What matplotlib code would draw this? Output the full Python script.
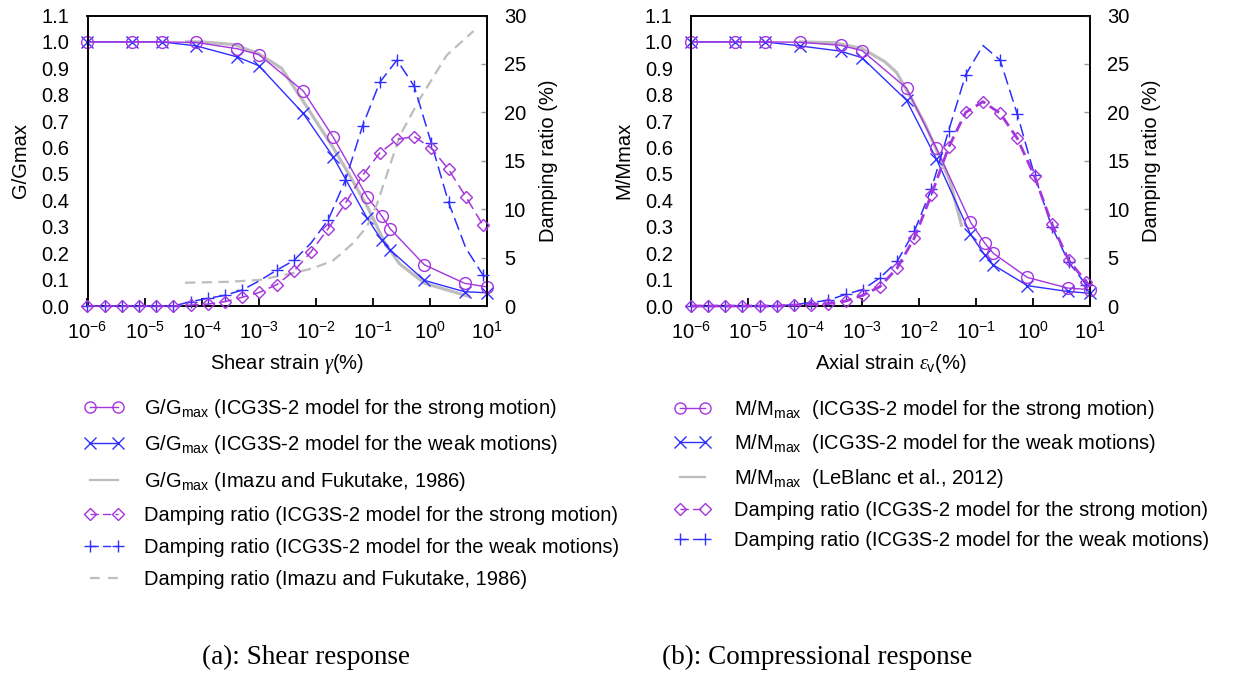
import matplotlib
matplotlib.use("Agg")
import matplotlib.pyplot as plt
from matplotlib.lines import Line2D
from matplotlib.ticker import FixedLocator, LogFormatterMathtext, NullLocator, FormatStrFormatter

plt.rcParams['font.family'] = ['Liberation Sans', 'DejaVu Sans']
plt.rcParams['mathtext.fontset'] = 'custom'
plt.rcParams['mathtext.rm'] = 'Liberation Sans'
plt.rcParams['mathtext.it'] = 'Liberation Serif:italic'
plt.rcParams['mathtext.bf'] = 'Liberation Sans:bold'
plt.rcParams['lines.scale_dashes'] = False

# ---------------- data ----------------
# strains (%) at which the modulus curves are sampled
mod_strain = [1e-6, 6e-6, 2e-5, 8e-5, 4.2e-4, 1e-3, 6e-3, 2e-2, 7.9e-2, 0.141, 0.2, 0.79, 4.0, 10.0]

# shear modulus reduction
shear_G_strong = [1.0, 1.0, 1.0, 0.998, 0.974, 0.952, 0.814, 0.640, 0.413, 0.342, 0.292, 0.156, 0.086, 0.072]
shear_G_weak = [1.0, 1.0, 1.0, 0.985, 0.943, 0.910, 0.729, 0.565, 0.332, 0.250, 0.212, 0.097, 0.054, 0.050]
imazu_G_strain = [5.1e-5, 1e-4, 3.7e-4, 1e-3, 2.5e-3, 5.4e-3, 1e-2, 2e-2, 4e-2, 8e-2, 0.16, 0.29, 0.8, 5.0]
imazu_G = [1.0, 1.0, 0.99, 0.955, 0.90, 0.79, 0.70, 0.60, 0.49, 0.375, 0.24, 0.16, 0.086, 0.035]

# compressional modulus reduction
axial_M_strong = [1.0, 1.0, 1.0, 0.999, 0.987, 0.967, 0.825, 0.598, 0.318, 0.238, 0.199, 0.108, 0.068, 0.062]
axial_M_weak = [1.0, 1.0, 1.0, 0.985, 0.965, 0.940, 0.779, 0.557, 0.272, 0.193, 0.155, 0.077, 0.055, 0.048]
leblanc_M_strain = [7.9e-5, 3.2e-4, 1e-3, 2.5e-3, 4e-3, 6.3e-3, 1.26e-2, 2.5e-2, 3.5e-2, 5.6e-2]
leblanc_M = [1.0, 0.997, 0.975, 0.925, 0.885, 0.81, 0.69, 0.545, 0.47, 0.30]

# strains (%) at which the damping curves are sampled
damp_strain = [1e-6, 2e-6, 4e-6, 8e-6, 1.6e-5, 3.2e-5, 6.4e-5, 1.28e-4, 2.56e-4, 5.12e-4,
               1.02e-3, 2.05e-3, 4.1e-3, 8.19e-3, 1.64e-2, 3.28e-2, 6.55e-2, 0.131, 0.262, 0.524,
               1.05, 2.10, 4.19, 8.39, 10.0]

shear_D_strong = [0, 0, 0, 0, 0, 0, 0.1, 0.2, 0.45, 0.9, 1.4, 2.2, 3.6, 5.6, 8.0, 10.6,
                  13.5, 15.8, 17.2, 17.5, 16.3, 14.1, 11.3, 8.35, 7.8]
shear_D_weak = [0, 0, 0, 0, 0, 0, 0.45, 0.8, 1.1, 1.65, 2.6, 3.7, 4.7, 6.5, 8.9, 13.0,
                18.6, 23.1, 25.4, 22.7, 16.8, 10.7, 6.0, 3.2, 2.7]
imazu_D_strain = [5.1e-5, 3e-4, 1.05e-3, 4e-3, 8.9e-3, 2e-2, 4.5e-2, 7.8e-2, 0.115, 0.295, 0.66, 1.95, 5.75]
imazu_D = [2.4, 2.5, 2.7, 3.4, 3.9, 4.7, 6.5, 8.2, 10.4, 17.6, 21.4, 25.9, 28.4]

axial_D_strong = [0, 0, 0, 0, 0, 0, 0.1, 0.15, 0.25, 0.5, 1.1, 2.0, 3.9, 7.0, 11.5, 16.4,
                  20.0, 21.1, 19.9, 17.3, 13.4, 8.5, 4.7, 2.5, 2.0]
axial_D_weak = [0, 0, 0, 0, 0, 0, 0.15, 0.35, 0.6, 1.2, 1.7, 2.9, 4.6, 7.7, 12.1, 18.1,
                23.9, 26.9, 25.4, 19.8, 13.5, 8.2, 4.5, 2.2, 1.9]

x_ticks = [1e-6, 1e-5, 1e-4, 1e-3, 1e-2, 1e-1, 1e0, 1e1]
g_ticks = [0.0, 0.1, 0.2, 0.3, 0.4, 0.5, 0.6, 0.7, 0.8, 0.9, 1.0, 1.1]
d_ticks = [0, 5, 10, 15, 20, 25, 30]

# ---------------- styling ----------------
PURPLE = '#A535DC'
BLUE = '#2F2FFF'
GREY = '#BDBDBD'
FS = 14.5

W, H = 1235, 675
fig = plt.figure(figsize=(W / 100, H / 100), dpi=100)


def frac_box(x0, x1, y0, y1):
    return [x0 / W, 1 - y1 / H, (x1 - x0) / W, (y1 - y0) / H]


def style_axes(ax, ax2, ylabel, xlabel):
    ax.set_xscale('log')
    ax.set_xlim(1e-6, 10)
    ax.set_ylim(0, 1.1)
    ax2.set_ylim(0, 30)
    ax.xaxis.set_major_locator(FixedLocator(x_ticks))
    ax.xaxis.set_major_formatter(LogFormatterMathtext())
    ax.xaxis.set_minor_locator(NullLocator())
    ax.yaxis.set_major_locator(FixedLocator(g_ticks))
    ax.yaxis.set_major_formatter(FormatStrFormatter('%.1f'))
    ax2.yaxis.set_major_locator(FixedLocator(d_ticks))
    ax.tick_params(axis='x', direction='in', length=6, width=1.3, labelsize=FS, pad=11,
                   top=False, color='black')
    ax.tick_params(axis='y', length=0, labelsize=FS, pad=13)
    ax2.tick_params(axis='y', direction='in', length=4.5, width=1.0, color='#9A9A9A',
                    labelsize=FS, pad=12)
    for a in (ax, ax2):
        for s in a.spines.values():
            s.set_linewidth(1.2)
            s.set_color('black')
    ax.set_ylabel(ylabel, fontsize=FS, labelpad=8)
    ax2.set_ylabel('Damping ratio (%)', fontsize=FS, labelpad=9)
    ax.set_xlabel(xlabel, fontsize=FS, labelpad=6)


def draw(ax, ax2, strong, weak, ref_x, ref_y, d_strong, d_weak, d_weak_marks, strong_dash_lw,
         ref_dx=None, ref_dy=None):
    ax.plot(ref_x, ref_y, color=GREY, lw=2.3, zorder=2, solid_capstyle='butt')
    ax.plot(mod_strain, weak, color=BLUE, lw=1.0, marker='x', ms=8, mew=1.0,
            clip_on=False, zorder=3)
    ax.plot(mod_strain, strong, color=PURPLE, lw=1.0, marker='o', ms=8.5, mew=1.0,
            mfc='none', clip_on=False, zorder=4)
    if ref_dx is not None:
        ax2.plot(ref_dx, ref_dy, color=GREY, lw=1.6, dashes=(7.5, 4.5), zorder=2)
    ax2.plot(damp_strain, d_weak, color=BLUE, lw=1.1, dashes=(9, 4), marker='+', ms=9,
             mew=1.0, markevery=d_weak_marks, clip_on=False, zorder=3)
    ax2.plot(damp_strain, d_strong, color=PURPLE, lw=strong_dash_lw, dashes=(8, 4),
             marker='D', ms=6, mew=1.0, mfc='none', markevery=list(range(24)),
             clip_on=False, zorder=4)


# (a) shear response
axL = fig.add_axes(frac_box(87.5, 487.3, 15.5, 306))
axL2 = axL.twinx()
style_axes(axL, axL2, 'G/Gmax', r'Shear strain $\gamma$(%)')
shear_weak_marks = [i for i in range(25) if i not in (10, 13, 22, 24)]
draw(axL, axL2, shear_G_strong, shear_G_weak, imazu_G_strain, imazu_G,
     shear_D_strong, shear_D_weak, shear_weak_marks, 1.1, imazu_D_strain, imazu_D)

# (b) compressional response
axR = fig.add_axes(frac_box(690.9, 1090.4, 15.5, 306))
axR2 = axR.twinx()
style_axes(axR, axR2, 'M/Mmax', r'Axial strain $\varepsilon_{\mathrm{v}}$(%)')
axial_weak_marks = [i for i in range(25) if i not in (17, 24)]
draw(axR, axR2, axial_M_strong, axial_M_weak, leblanc_M_strain, leblanc_M,
     axial_D_strong, axial_D_weak, axial_weak_marks, 2.0)


# legends
def handle(color, marker, dashed=False, lw=1.0, mfc=None, ms=8):
    kw = dict(color=color, lw=lw, marker=marker, ms=ms, mew=1.0)
    if mfc is not None:
        kw['mfc'] = mfc
    if dashed:
        kw['dashes'] = (6, 3)
    return Line2D([], [], **kw)


left_handles = [
    handle(PURPLE, 'o', mfc='none'),
    handle(BLUE, 'x'),
    Line2D([], [], color=GREY, lw=1.6),
    handle(PURPLE, 'D', dashed=True, mfc='none', ms=6),
    handle(BLUE, '+', dashed=True, ms=9),
    Line2D([], [], color=GREY, lw=1.6, dashes=(7, 6)),
]
left_labels = [
    r'G/G$_{\mathrm{max}}$ (ICG3S-2 model for the strong motion)',
    r'G/G$_{\mathrm{max}}$ (ICG3S-2 model for the weak motions)',
    r'G/G$_{\mathrm{max}}$ (Imazu and Fukutake, 1986)',
    'Damping ratio (ICG3S-2 model for the strong motion)',
    'Damping ratio (ICG3S-2 model for the weak motions)',
    'Damping ratio (Imazu and Fukutake, 1986)',
]
right_handles = [
    handle(PURPLE, 'o', mfc='none'),
    handle(BLUE, 'x'),
    Line2D([], [], color=GREY, lw=1.6),
    handle(PURPLE, 'D', dashed=True, mfc='none', ms=6),
    handle(BLUE, '+', dashed=True, ms=9),
]
right_labels = [
    r'M/M$_{\mathrm{max}}$  (ICG3S-2 model for the strong motion)',
    r'M/M$_{\mathrm{max}}$  (ICG3S-2 model for the weak motions)',
    r'M/M$_{\mathrm{max}}$  (LeBlanc et al., 2012)',
    'Damping ratio (ICG3S-2 model for the strong motion)',
    'Damping ratio (ICG3S-2 model for the weak motions)',
]

fig.legend(left_handles, left_labels, loc='upper left', bbox_to_anchor=(84 / W, 1 - 397 / H),
           frameon=False, fontsize=FS, numpoints=2, handlelength=2.0, handletextpad=1.0,
           labelspacing=0.66, borderpad=0, borderaxespad=0)
fig.legend(right_handles, right_labels, loc='upper left', bbox_to_anchor=(674 / W, 1 - 398 / H),
           frameon=False, fontsize=FS, numpoints=2, handlelength=1.85, handletextpad=1.15,
           labelspacing=0.56, borderpad=0, borderaxespad=0)

# captions
fig.text(306 / W, 1 - 657 / H, '(a): Shear response', family='Liberation Serif',
         fontsize=19.5, ha='center', va='center')
fig.text(817 / W, 1 - 657 / H, '(b): Compressional response', family='Liberation Serif',
         fontsize=19.5, ha='center', va='center')

fig.savefig('out.png', dpi=100)
